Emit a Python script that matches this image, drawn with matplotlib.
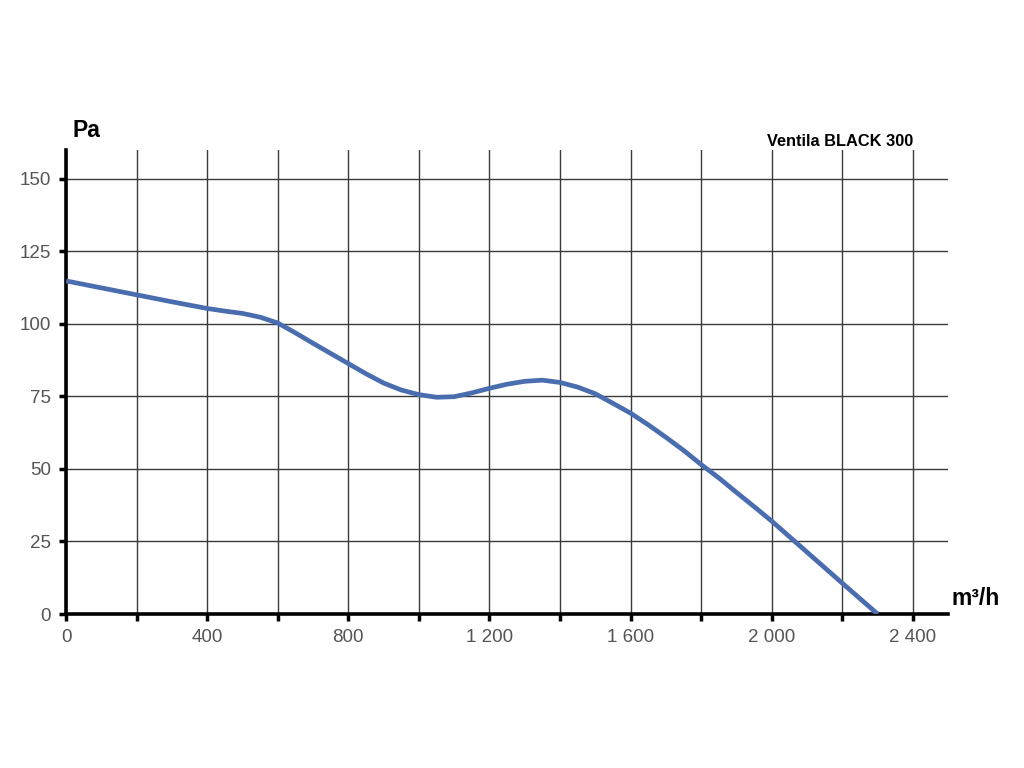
import matplotlib
matplotlib.use('Agg')
import matplotlib.pyplot as plt
from matplotlib.ticker import MultipleLocator, FuncFormatter

plt.rcParams['font.family'] = ['Liberation Sans', 'DejaVu Sans']

# airflow (m3/h) and static pressure (Pa)
flow = [0, 100, 200, 300, 400, 450, 500, 550, 600, 650, 700, 750, 800, 850, 900,
        950, 1000, 1050, 1100, 1150, 1200, 1250, 1300, 1350, 1400, 1450, 1500,
        1550, 1600, 1650, 1700, 1750, 1800, 1850, 1900, 1950, 2000, 2100, 2200, 2300]
pressure = [114.8, 112.4, 110, 107.6, 105.3, 104.4, 103.6, 102.3, 100.3, 96.9, 93.3,
            89.8, 86.3, 82.8, 79.6, 77.2, 75.6, 74.7, 74.9, 76.2, 77.8, 79.2, 80.2,
            80.6, 79.8, 78.2, 75.9, 72.6, 69.2, 65.2, 60.9, 56.4, 51.5, 46.9, 41.9,
            37, 32, 21.3, 10.6, 0]

title = 'Ventila BLACK 300'
xlab = 'm³/h'
ylab = 'Pa'

fig = plt.figure(figsize=(10.24, 7.68), dpi=100)
ax = fig.add_axes([0.0645, 0.2005, 0.8615, 0.6045])

ax.plot(flow, pressure, color='#4a6db0', lw=3.4, solid_joinstyle='round',
        solid_capstyle='butt', zorder=3)

ax.set_xlim(0, 2500)
ax.set_ylim(0, 160)
ax.xaxis.set_major_locator(MultipleLocator(400))
ax.xaxis.set_minor_locator(MultipleLocator(200))
ax.yaxis.set_major_locator(MultipleLocator(25))
ax.xaxis.set_major_formatter(FuncFormatter(lambda v, p: f'{int(v):,}'.replace(',', ' ')))

ax.grid(True, which='both', axis='x', color='#3a3a3a', lw=1)
ax.grid(True, which='major', axis='y', color='#3a3a3a', lw=1)
ax.set_axisbelow(True)

for s in ['top', 'right']:
    ax.spines[s].set_visible(False)
for s in ['left', 'bottom']:
    ax.spines[s].set_linewidth(2.6)
    ax.spines[s].set_color('black')

ax.tick_params(which='both', axis='x', direction='out', length=5, width=2.5, color='black',
               labelsize=13.5, labelcolor='#555555', pad=6)
ax.tick_params(axis='y', direction='out', length=5, width=2.5, color='black',
               labelsize=13.5, labelcolor='#555555', pad=6)

fig.text(0.071, 0.83, ylab, fontsize=16.5, fontweight='bold', ha='left', va='center')
fig.text(0.929, 0.221, xlab, fontsize=16.5, fontweight='bold', ha='left', va='center')
fig.text(0.892, 0.816, title, fontsize=11.8, fontweight='bold', ha='right', va='center')

fig.savefig('out.png', dpi=100)
